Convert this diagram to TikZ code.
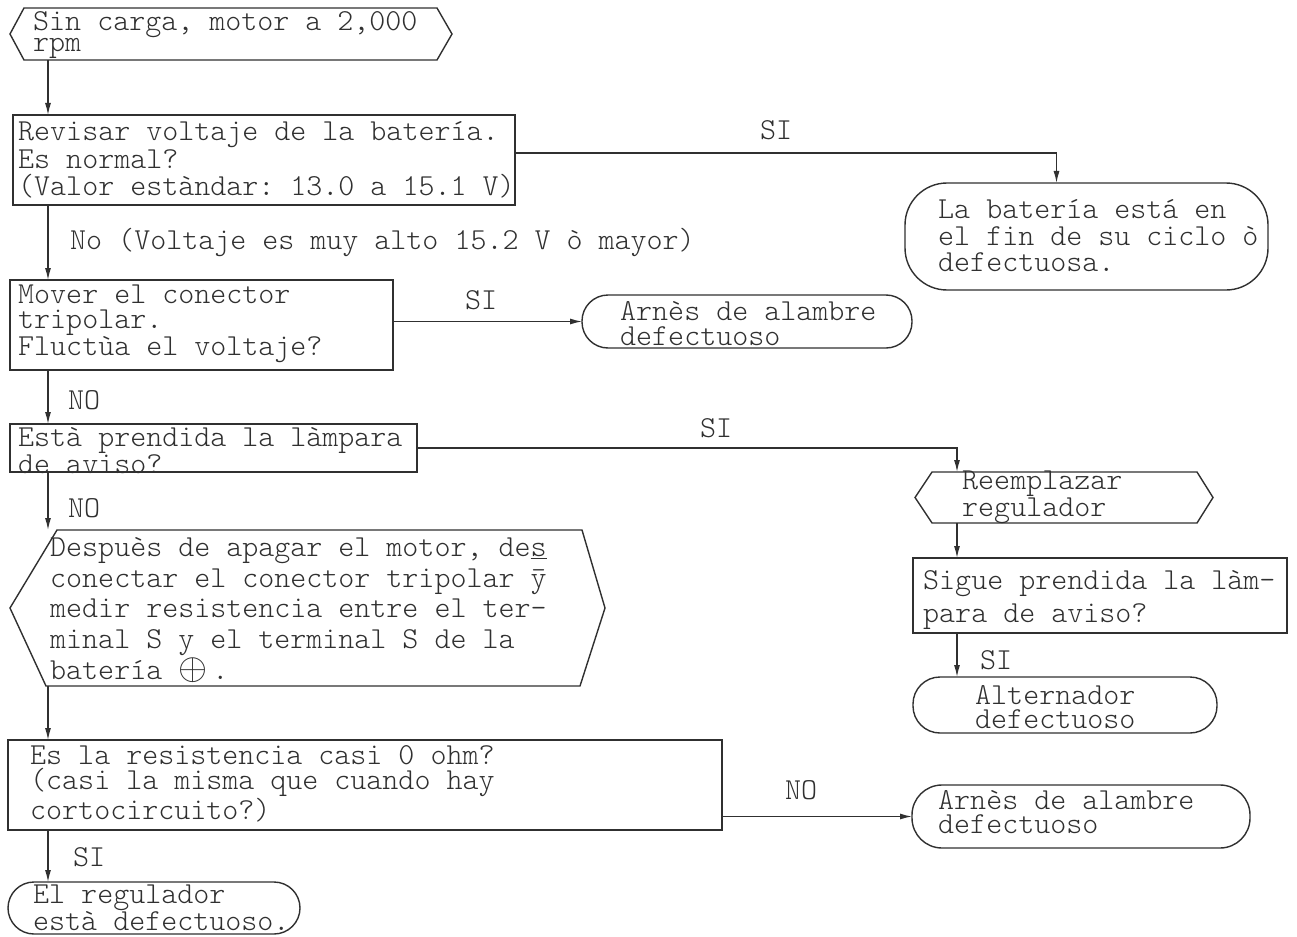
\documentclass[tikz,border=0pt]{standalone}
\usepackage{graphicx}
\usepackage{fontspec}
\setmonofont{lmmonolt10-regular.otf}
\usetikzlibrary{arrows.meta}
\definecolor{ink}{HTML}{303030}
\newcommand{\fsz}[1]{\ttfamily\fontsize{30.5}{#1}\selectfont}
\tikzset{
  shp/.style={draw=ink, line width=1.4pt, anchor=north west, inner sep=0pt, outer sep=0pt},
  ghost/.style={anchor=north west, inner sep=0pt, outer sep=0pt},
  outline/.style={draw=ink, line width=1.4pt, line join=miter},
  txt/.style={anchor=west, align=left, inner sep=0pt, text=ink},
  lbl/.style={anchor=west, inner sep=0pt, text=ink, font=\fsz{30}},
  arr/.style={draw=ink, line width=1.3pt, -{Latex[length=12pt,width=6pt]}},
}
\begin{document}
\begin{tikzpicture}[x=1pt,y=-1pt]
\useasboundingbox[fill=white] (0,0) rectangle (1297,936);
\coordinate (spine) at (48,0);
\coordinate (rspine) at (957,0);

% start hexagon
\node[ghost, minimum width=413pt, minimum height=52pt] (s) at (24,8) {};
\draw[outline] (s.north west) -- (s.north east) -- ([xshift=15pt]s.east) -- (s.south east) -- (s.south west) -- ([xshift=-14pt]s.west) -- cycle;
\node[txt, font=\fsz{20}] (st) at (33,35) {Sin carga, motor a 2,000\\rpm};

% revisar
\node[shp, minimum width=502pt, minimum height=90pt] (r) at (13,115) {};
\node[txt, font=\fsz{27.5}] (rt) at (18,160) {Revisar voltaje de la batería.\\Es normal?\\(Valor estàndar: 13.0 a 15.1 V)};

% bateria
\node[shp, rounded corners=42pt, minimum width=363pt, minimum height=107pt] (b) at (905,183) {};
\node[txt, font=\fsz{26.5}] (bt) at (938,236) {La batería está en\\el fin de su ciclo ò\\defectuosa.};

% mover
\node[shp, minimum width=383pt, minimum height=90pt] (m) at (10,280) {};
\node[txt, font=\fsz{25}] (mt) at (18,324) {Mover el conector\\tripolar.\\Fluctùa el voltaje?};

% arnes 1
\node[shp, rounded corners=26pt, minimum width=330pt, minimum height=53pt] (a1) at (582,295) {};
\node[txt, font=\fsz{25}] (a1t) at (620,324) {Arnès de alambre\\defectuoso};

% lampara
\node[shp, minimum width=407pt, minimum height=48pt] (l) at (10,424) {};
\node[txt, font=\fsz{22}] (lt) at (18,451) {Està prendida la làmpara\\de aviso?};

% big hexagon
\node[ghost, minimum width=525pt, minimum height=156pt] (h) at (57,530) {};
\draw[outline] (h.north west) -- (h.north east) -- ([xshift=23pt]h.east) -- ([xshift=-2pt]h.south east) -- ([xshift=-11pt]h.south west) -- ([xshift=-47pt]h.west) -- cycle;
\node[txt, font=\fsz{30.7}] (ht) at (50,610) {Despuès de apagar el motor, de\underline{s}\\conectar el conector tripolar \=y\\medir resistencia entre el ter-\\minal S y el terminal S de la\\batería \raisebox{0pt}{\scalebox{1.5}{$\oplus$}}\,.};

% resistencia
\node[shp, minimum width=714pt, minimum height=90pt] (q) at (8,740) {};
\node[txt, font=\fsz{25}] (qt) at (30,784) {Es la resistencia casi 0 ohm?\\(casi la misma que cuando hay\\cortocircuito?)};

% arnes 2
\node[shp, rounded corners=30pt, minimum width=338pt, minimum height=63pt] (a2) at (912,785) {};
\node[txt, font=\fsz{24}] (a2t) at (938,812) {Arnès de alambre\\defectuoso};

% regulador defectuoso
\node[shp, rounded corners=26pt, minimum width=292pt, minimum height=52pt] (g) at (8,882) {};
\node[txt, font=\fsz{24}] (gt) at (33,908) {El regulador\\està defectuoso.};

% reemplazar
\node[ghost, minimum width=265pt, minimum height=51pt] (re) at (932,472) {};
\draw[outline] (re.north west) -- (re.north east) -- ([xshift=16pt]re.east) -- (re.south east) -- (re.south west) -- ([xshift=-17pt]re.west) -- cycle;
\node[txt, font=\fsz{21}] (ret) at (962,497) {Reemplazar\\regulador};

% sigue
\node[shp, minimum width=374pt, minimum height=75pt] (sg) at (913,558) {};
\node[txt, font=\fsz{33}] (sgt) at (923,600) {Sigue prendida la làm-\\para de aviso?};

% alternador
\node[shp, rounded corners=27pt, minimum width=304pt, minimum height=56pt] (al) at (913,677) {};
\node[txt, font=\fsz{23.5}] (alt) at (975,707) {Alternador\\defectuoso};

% connectors
\draw[arr] (s.south -| spine) -- (r.north -| spine);
\draw[arr] ([yshift=7pt]r.east) -| ([xshift=-30pt]b.north);
\node[lbl] (l1) at (760,130) {SI};
\draw[arr] (r.south -| spine) -- (m.north -| spine);
\node[lbl] (l2) at (70,242) {No (Voltaje es muy alto 15.2 V ò mayor)};
\draw[arr] (a1.west -| m.east) -- (a1.west);
\node[lbl] (l3) at (465,300) {SI};
\draw[arr] (m.south -| spine) -- (l.north -| spine);
\node[lbl] (l4) at (68,400) {NO};
\draw[arr] (l.east) -| (re.north -| rspine);
\node[lbl] (l5) at (700,428) {SI};
\draw[arr] (l.south -| spine) -- (h.north -| spine);
\node[lbl] (l6) at (68,508) {NO};
\draw[arr] (h.south -| spine) -- (q.north -| spine);
\draw[arr] (a2.west -| q.east) -- (a2.west);
\node[lbl] (l7) at (785,790) {NO};
\draw[arr] (q.south -| spine) -- (g.north -| spine);
\node[lbl] (l8) at (73,857) {SI};
\draw[arr] (re.south -| rspine) -- (sg.north -| rspine);
\draw[arr] (sg.south -| rspine) -- (al.north -| rspine);
\node[lbl] (l9) at (980,660) {SI};
\end{tikzpicture}
\end{document}
